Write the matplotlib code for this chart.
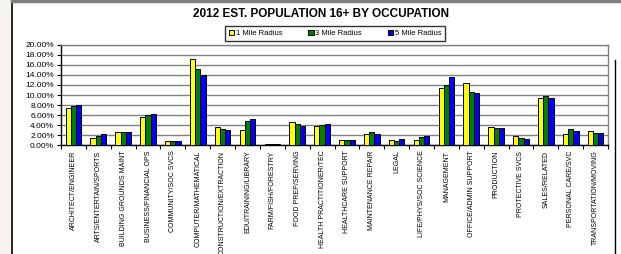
import matplotlib
matplotlib.use("Agg")
import matplotlib.pyplot as plt
import numpy as np
from matplotlib.ticker import FuncFormatter, FixedLocator
from matplotlib.lines import Line2D

plt.rcParams['font.family'] = ['Liberation Sans', 'DejaVu Sans']

categories = [
    "ARCHITECT/ENGINEER", "ARTS/ENTERTAIN/SPORTS", "BUILDING GROUNDS MAINT",
    "BUSINESS/FINANCIAL OPS", "COMMUNITY/SOC SVCS", "COMPUTER/MATHEMATICAL",
    "CONSTRUCTION/EXTRACTION", "EDU/TRAINING/LIBRARY", "FARM/FISH/FORESTRY",
    "FOOD PREP/SERVING", "HEALTH PRACTITIONER/TEC", "HEALTHCARE SUPPORT",
    "MAINTENANCE REPAIR", "LEGAL", "LIFE/PHYS/SOC SCIENCE", "MANAGEMENT",
    "OFFICE/ADMIN SUPPORT", "PRODUCTION", "PROTECTIVE SVCS", "SALES/RELATED",
    "PERSONAL CARE/SVC", "TRANSPORTATION/MOVING",
]
series_names = ["1 Mile Radius", "3 Mile Radius", "5 Mile Radius"]
mile1 = [7.3, 1.4, 2.6, 5.5, 0.8, 17.2, 3.6, 3.0, 0.15, 4.6, 3.8, 1.0, 2.2, 1.1,
         1.1, 11.3, 12.3, 3.6, 1.9, 9.3, 2.2, 2.8]
mile3 = [7.7, 1.9, 2.7, 5.9, 0.8, 15.2, 3.2, 4.8, 0.15, 4.2, 4.0, 1.1, 2.6, 0.8,
         1.6, 11.9, 10.5, 3.5, 1.4, 9.7, 3.2, 2.4]
mile5 = [8.0, 2.3, 2.6, 6.1, 0.8, 14.0, 3.0, 5.3, 0.15, 3.9, 4.2, 1.0, 2.2, 1.2,
         1.9, 13.5, 10.3, 3.4, 1.2, 9.3, 2.9, 2.4]
colors = ["#FFFF00", "#008000", "#0000FF"]

W, H = 621, 254
fig = plt.figure(figsize=(W / 100, H / 100), dpi=100)
fig.patch.set_facecolor("white")

# frame around the chart
fig.patches.append(plt.Rectangle((0, 0), 12 / W, 1, transform=fig.transFigure,
                                 facecolor="#F8F4EE", edgecolor="none"))
fig.add_artist(Line2D([12 / W, 12 / W], [0, 1], color="black", lw=1.2))
fig.add_artist(Line2D([615 / W, 615 / W], [0, 1 - 60 / H], color="black", lw=1.0))
fig.add_artist(Line2D([12 / W, 1], [1 - 1 / H, 1 - 1 / H], color="#808080", lw=2.5))

ax = fig.add_axes([61 / W, 1 - 145 / H, (608 - 61) / W, 100 / H])
x = np.arange(len(categories))
bw = 0.21
for i, (vals, c, name) in enumerate(zip([mile1, mile3, mile5], colors, series_names)):
    ax.bar(x + (i - 1) * bw, vals, bw, color=c, edgecolor="black", linewidth=0.7,
           label=name, zorder=3)

ax.set_xlim(-0.5, len(categories) - 0.5)
ax.set_ylim(0, 20)
ax.set_yticks(np.arange(0, 21, 2))
ax.yaxis.set_major_formatter(FuncFormatter(lambda v, p: f"{v:.2f}%"))
ax.yaxis.grid(True, color="#808080", lw=1.0, zorder=0)
ax.set_xticks(x)
ax.set_xticklabels(categories, rotation=90, fontsize=5, va="top", ha="center")
ax.xaxis.set_minor_locator(FixedLocator(np.arange(-0.5, len(categories), 1)))
ax.tick_params(axis="x", which="major", length=0, pad=4)
ax.tick_params(axis="x", which="minor", length=3, width=0.8, direction="out")
ax.tick_params(axis="y", length=3, width=0.8, labelsize=6, pad=2)
for s in ["left", "bottom"]:
    ax.spines[s].set_color("black")
    ax.spines[s].set_linewidth(1.0)
for s in ["top", "right"]:
    ax.spines[s].set_color("#808080")
    ax.spines[s].set_linewidth(1.0)

fig.text(321 / W, 1 - 14 / H, "2012 EST. POPULATION 16+ BY OCCUPATION",
         ha="center", va="center", fontsize=8.5, fontweight="bold")

handles, labels = ax.get_legend_handles_labels()
leg = fig.legend(handles, labels, loc="center", ncol=3,
                 bbox_to_anchor=(335 / W, 1 - 33.5 / H), fontsize=5.5,
                 frameon=True, fancybox=False, edgecolor="black",
                 handlelength=0.7, handleheight=0.7, handletextpad=0.2,
                 columnspacing=3.4, borderpad=0.55, borderaxespad=0)
leg.get_frame().set_linewidth(1.0)

fig.savefig("out.png", dpi=100)
